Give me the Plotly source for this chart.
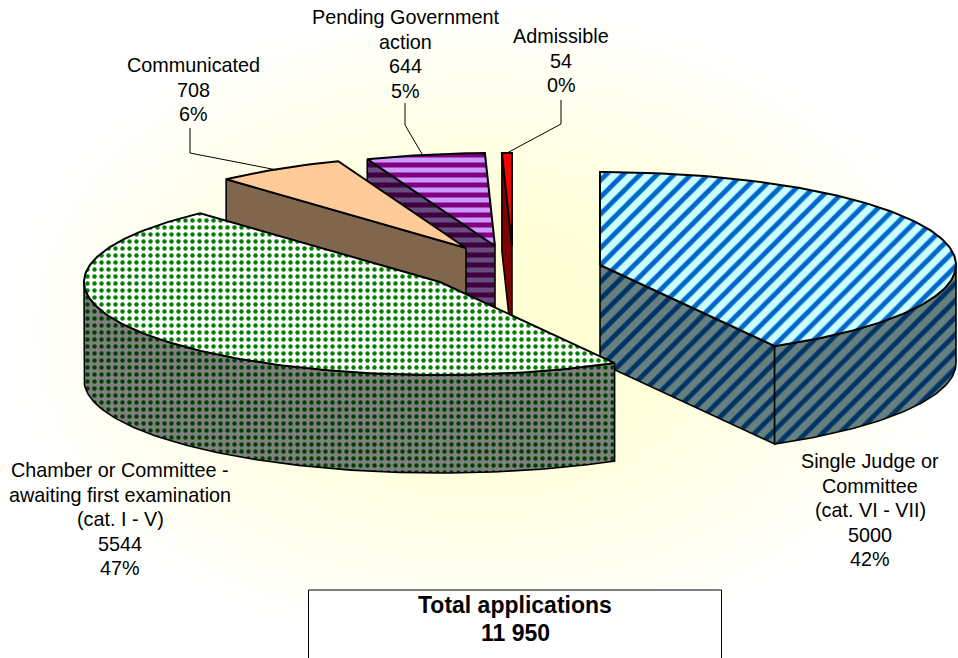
import math
import plotly.graph_objects as go

# ---- data ----
categories = ["Single Judge or<br>Committee<br>(cat. VI - VII)",
              "Chamber or Committee -<br>awaiting first examination<br>(cat. I - V)",
              "Communicated",
              "Pending Government<br>action",
              "Admissible"]
values = [5000, 5544, 708, 644, 54]
percent_labels = ["42%", "47%", "6%", "5%", "0%"]
box_title = "Total applications"
box_total = "11 950"

# ---- layout / styling ----
W, H = 958, 658
RX, RY, DEPTH = 356, 93, 98
FONT = "Liberation Sans"
LINE_STEP = 24.5
apex = [(600, 265), (440, 282), (466, 248), (495, 246), (512, 246)]
label_first_line = [(870, 461), (120, 470), (193, 65), (405, 17), (561, 36)]
leaders = [None, None,
           [(190, 128), (190, 153), (277, 170)],
           [(405, 103), (405, 125), (422, 154)],
           [(561, 100), (561, 124), (507, 153)]]
top_style = [
    dict(shape="/", bgcolor="#CCFFFF", fgcolor="#0066CC", fgopacity=1, size=12, solidity=0.4),
    dict(shape=".", bgcolor="#FFFFFF", fgcolor="#008000", fgopacity=1, size=7, solidity=0.32),
    None,
    dict(shape="-", bgcolor="#CC99FF", fgcolor="#800080", fgopacity=1, size=10, solidity=0.5),
    None,
]
wall_style = [
    dict(shape="/", bgcolor="#667F7F", fgcolor="#003366", fgopacity=1, size=12, solidity=0.4),
    dict(shape=".", bgcolor="#808080", fgcolor="#004000", fgopacity=1, size=7, solidity=0.32),
    None,
    dict(shape="-", bgcolor="#664C7F", fgcolor="#400040", fgopacity=1, size=10, solidity=0.5),
    None,
]
top_solid = [None, None, "#FFCC99", None, "#FF0000"]
wall_solid = [None, None, "#7F664C", None, "#800000"]
draw_order = [4, 3, 2, 0, 1]

fig = go.Figure()

# page background
fig.add_trace(go.Scatter(
    x=[0, W, W, 0, 0], y=[0, 0, H, H, 0], mode="lines", line=dict(width=0),
    fill="toself", fillgradient=dict(type="radial",
        colorscale=[[0, "#FFFFD0"], [0.35, "#FFFFD8"], [0.75, "#FFFFF0"], [1, "#FFFFFF"]]),
    hoverinfo="skip", showlegend=False))


def point(i, deg, drop=0):
    t = math.radians(deg)
    cx, cy = apex[i]
    return cx + RX * math.sin(t), cy - RY * math.cos(t) + drop


def arc(i, a, b, drop=0):
    n = max(2, int(abs(b - a)) + 2)
    return [point(i, a + (b - a) * k / (n - 1), drop) for k in range(n)]


def poly(pts, solid, pattern, lw):
    xs = [p[0] for p in pts] + [pts[0][0]]
    ys = [p[1] for p in pts] + [pts[0][1]]
    kw = dict(fillcolor=solid) if solid else dict(fillpattern=pattern, fillcolor=pattern["bgcolor"])
    fig.add_trace(go.Scatter(x=xs, y=ys, mode="lines", fill="toself",
                             line=dict(color="#000000", width=lw),
                             hoverinfo="skip", showlegend=False, **kw))


total = sum(values)
starts = []
acc = 0.0
for v in values:
    starts.append(acc)
    acc += v / total * 360

for i in draw_order:
    t0 = starts[i]
    t1 = t0 + values[i] / total * 360
    cx, cy = apex[i]
    # radial cut faces that face the viewer
    if 180 < t0 < 360:
        p = point(i, t0)
        poly([(cx, cy), p, (p[0], p[1] + DEPTH), (cx, cy + DEPTH)], wall_solid[i], wall_style[i], 1.6)
    if 0 < t1 < 180:
        p = point(i, t1)
        poly([(cx, cy), p, (p[0], p[1] + DEPTH), (cx, cy + DEPTH)], wall_solid[i], wall_style[i], 1.6)
    # outer rim wall
    lo, hi = max(t0, 90), min(t1, 270)
    if hi > lo:
        poly(arc(i, lo, hi) + arc(i, hi, lo, DEPTH), wall_solid[i], wall_style[i], 1.6)
    # top face
    poly([(cx, cy)] + arc(i, t0, t1), top_solid[i], top_style[i], 2)

# leader lines
for path in leaders:
    if path:
        fig.add_trace(go.Scatter(x=[p[0] for p in path], y=[p[1] for p in path], mode="lines",
                                 line=dict(color="#000000", width=1),
                                 hoverinfo="skip", showlegend=False))

# labels, one annotation per line so the line pitch matches
annotations = []
for i, name in enumerate(categories):
    lines = name.split("<br>") + [str(values[i]), percent_labels[i]]
    x0, y0 = label_first_line[i]
    for k, line in enumerate(lines):
        annotations.append(dict(
            x=x0, y=y0 + k * LINE_STEP, xref="x", yref="y", showarrow=False,
            text=line, xanchor="center", yanchor="middle",
            font=dict(family=FONT, size=19.8, color="#000000")))
for text, y in ((box_title, 605), (box_total, 633)):
    annotations.append(dict(
        x=515, y=y, xref="x", yref="y", showarrow=False,
        text=f"<b>{text}</b>", xanchor="center", yanchor="middle",
        font=dict(family=FONT, size=23, color="#000000")))

fig.update_layout(
    width=W, height=H, margin=dict(l=0, r=0, t=0, b=0),
    paper_bgcolor="#FFFFFF", plot_bgcolor="#FFFFFF", showlegend=False,
    xaxis=dict(range=[0, W], visible=False, fixedrange=True),
    yaxis=dict(range=[H, 0], visible=False, fixedrange=True),
    annotations=annotations,
    shapes=[dict(type="rect", xref="x", yref="y", x0=308.5, x1=721.5, y0=590, y1=670,
                 fillcolor="#FFFFFF", line=dict(color="#000000", width=1), layer="above")],
)
fig.write_html("out.html", config=dict(displayModeBar=False),
               post_script='document.body.style.margin="0";document.body.style.overflow="hidden";')
